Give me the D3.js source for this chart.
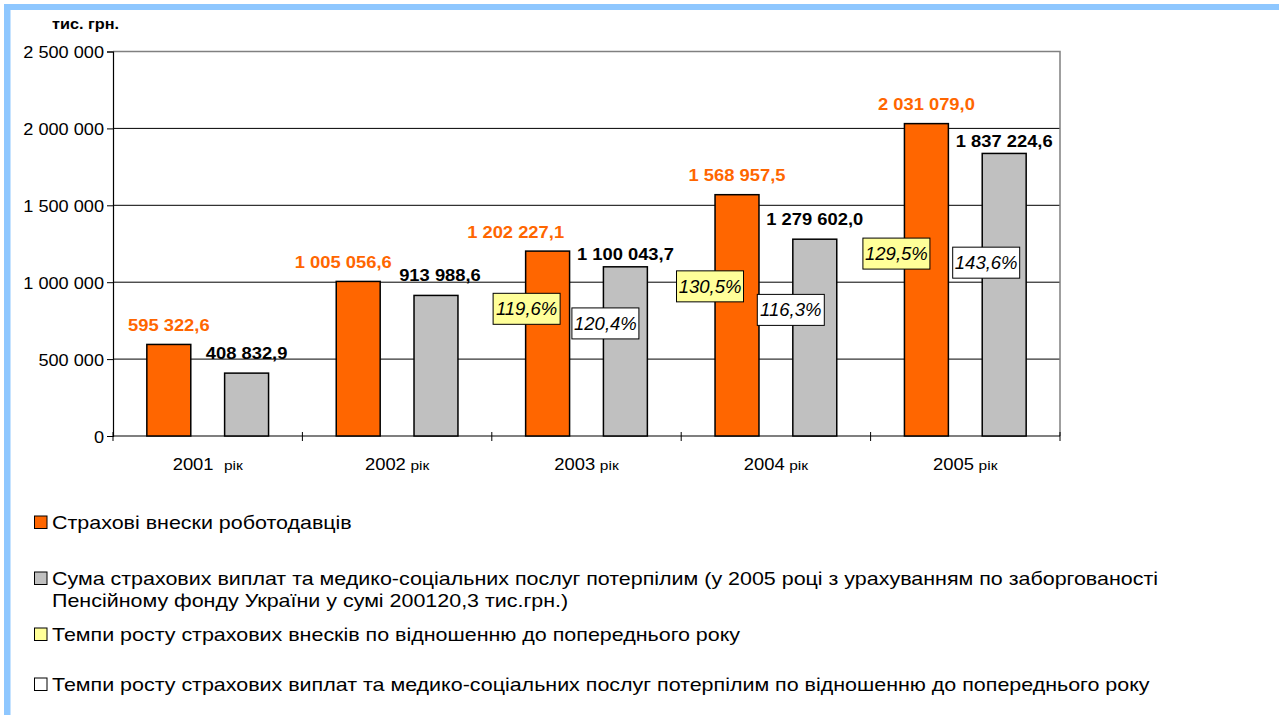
<!DOCTYPE html>
<html>
<head>
<meta charset="utf-8">
<script src="https://cdn.jsdelivr.net/npm/d3@7"></script>
<style>
  body { margin: 0; background: #fff; }
  svg { display: block; font-family: "Liberation Sans", Arial, sans-serif; }
</style>
</head>
<body>
<div id="chart"></div>
<script>
// data
var years = ["2001", "2002", "2003", "2004", "2005"];
var contributions = [595322.6, 1005056.6, 1202227.1, 1568957.5, 2031079.0];
var payments = [408832.9, 913988.6, 1100043.7, 1279602.0, 1837224.6];
var contribGrowth = [null, null, 119.6, 130.5, 129.5];
var paymentGrowth = [null, null, 120.4, 116.3, 143.6];
var yTicks = [0, 500000, 1000000, 1500000, 2000000, 2500000];
var unitLabel = "тис. грн.";
var legendLabels = [
  ["Страхові внески роботодавців"],
  ["Сума страхових виплат та медико-соціальних послуг потерпілим (у 2005 році з урахуванням по заборгованості",
   "Пенсійному фонду України у сумі 200120,3 тис.грн.)"],
  ["Темпи росту страхових внесків по відношенню до попереднього року"],
  ["Темпи росту страхових виплат та медико-соціальних послуг потерпілим по відношенню до попереднього року"]
];

var colors = { contrib: "#FF6600", pay: "#C0C0C0", rateC: "#FFFF99", rateP: "#FFFFFF" };

// hand placed label tweaks (as in the original)
var contribLabelDx = [0, -15, -32, 0, 0];
var payLabelDx = [0, 4, 0, 0, 0];
var payLabelGap = [14, 14, 7, 14, 6];
var rateCDx = [0, 0, -21, -27, -30];
var rateCLevel = [0, 0, 827000, 973000, 1186000];
var ratePDx = [0, 0, -20, -24, -18];
var ratePLevel = [0, 0, 732000, 820000, 1127000];

var W = 1279, H = 715;
var plot = { left: 113, right: 1060, top: 51.5, bottom: 436 };

var locale = d3.formatLocale({ decimal: ",", thousands: " ", grouping: [3], currency: ["", ""] });
var fmtVal = locale.format(",.1f");
var fmtTick = locale.format(",d");
var fmtPct = function(v) { return locale.format(".1f")(v) + "%"; };

var svg = d3.select("#chart").append("svg")
  .attr("width", W)
  .attr("height", H);

svg.append("rect").attr("width", W).attr("height", H).attr("fill", "#fff");

// frame of the slide
svg.append("rect").attr("x", 4).attr("y", 4).attr("width", W - 4).attr("height", 6).attr("fill", "#8EC7FF");
svg.append("rect").attr("x", 4).attr("y", 4).attr("width", 6.5).attr("height", H - 4).attr("fill", "#8EC7FF");

var x = d3.scaleBand()
  .domain(years)
  .range([plot.left, plot.right])
  .padding(0);

var xSub = d3.scaleBand()
  .domain(["contrib", "pay"])
  .range([0, x.bandwidth()])
  .padding(0.435);

var y = d3.scaleLinear()
  .domain([0, 2500000])
  .range([plot.bottom, plot.top]);

// stretched text helper (the original text is a bit wide)
function stext(g, px, py, str, sx) {
  return g.append("text")
    .attr("transform", "translate(" + px + "," + py + ") scale(" + (sx || 1) + ",1)")
    .text(str);
}

// gridlines
svg.append("g").selectAll("line")
  .data(yTicks.filter(function(d) { return d > 0 && d < 2500000; }))
  .enter().append("line")
  .attr("x1", plot.left).attr("x2", plot.right)
  .attr("y1", function(d) { return y(d); })
  .attr("y2", function(d) { return y(d); })
  .attr("stroke", "#000")
  .attr("stroke-width", 1);

// plot border top/right
svg.append("path")
  .attr("d", "M" + plot.left + "," + y(2500000) + "H" + plot.right + "V" + plot.bottom)
  .attr("fill", "none")
  .attr("stroke", "#808080")
  .attr("stroke-width", 1.5);

// y axis
var yAxis = svg.append("g")
  .attr("transform", "translate(" + plot.left + ",0)")
  .call(d3.axisLeft(y).tickValues(yTicks).tickFormat(fmtTick).tickSize(6).tickPadding(3));
yAxis.select(".domain").attr("stroke", "#000").attr("stroke-width", 1.2);
yAxis.selectAll(".tick line").attr("stroke", "#000");
yAxis.selectAll(".tick text").remove();
yAxis.selectAll(".tick").each(function(d) {
  stext(d3.select(this), -9, 6, fmtTick(d), 1.1)
    .attr("text-anchor", "end")
    .attr("font-size", 16.5)
    .attr("fill", "#000");
});

// x axis
svg.append("line")
  .attr("x1", plot.left).attr("x2", plot.right)
  .attr("y1", y(0)).attr("y2", y(0))
  .attr("stroke", "#000").attr("stroke-width", 1.2);
var bounds = years.map(function(d) { return x(d); }).concat([plot.right]);
svg.append("g").selectAll("line")
  .data(bounds)
  .enter().append("line")
  .attr("x1", function(d) { return d; }).attr("x2", function(d) { return d; })
  .attr("y1", y(0) - 4).attr("y2", y(0) + 5)
  .attr("stroke", "#000").attr("stroke-width", 1);

var xLab = svg.append("g");
years.forEach(function(yr, i) {
  var t = xLab.append("text")
    .attr("transform", "translate(" + (x(yr) + x.bandwidth() / 2) + ",470) scale(1.15,1)")
    .attr("text-anchor", "middle")
    .attr("fill", "#000");
  t.append("tspan").attr("font-size", 16).text(yr);
  t.append("tspan").attr("font-size", 13.5).attr("dx", i === 0 ? 9 : 4).text("рік");
});

// bars
var bars = svg.append("g");
bars.selectAll(".bar-c")
  .data(years)
  .enter().append("rect")
  .attr("class", "bar-c")
  .attr("x", function(d) { return x(d) + xSub("contrib"); })
  .attr("width", xSub.bandwidth())
  .attr("y", function(d, i) { return y(contributions[i]); })
  .attr("height", function(d, i) { return y(0) - y(contributions[i]); })
  .attr("fill", colors.contrib)
  .attr("stroke", "#000")
  .attr("stroke-width", 1.5);

bars.selectAll(".bar-p")
  .data(years)
  .enter().append("rect")
  .attr("class", "bar-p")
  .attr("x", function(d) { return x(d) + xSub("pay"); })
  .attr("width", xSub.bandwidth())
  .attr("y", function(d, i) { return y(payments[i]); })
  .attr("height", function(d, i) { return y(0) - y(payments[i]); })
  .attr("fill", colors.pay)
  .attr("stroke", "#000")
  .attr("stroke-width", 1.5);

// value labels
var vl = svg.append("g").attr("font-weight", "bold").attr("font-size", 17).attr("text-anchor", "middle");
years.forEach(function(yr, i) {
  var cx = x(yr) + xSub("contrib") + xSub.bandwidth() / 2 + contribLabelDx[i];
  stext(vl, cx, y(contributions[i]) - 13.5, fmtVal(contributions[i]), 1.08).attr("fill", colors.contrib);
  var px = x(yr) + xSub("pay") + xSub.bandwidth() / 2 + payLabelDx[i];
  stext(vl, px, y(payments[i]) - payLabelGap[i], fmtVal(payments[i]), 1.08).attr("fill", "#000");
});

// growth rate boxes
var rb = svg.append("g");
function rateBox(cx, cy, val, fill) {
  var bw = 67, bh = 31;
  rb.append("rect")
    .attr("x", cx - bw / 2).attr("y", cy - bh / 2)
    .attr("width", bw).attr("height", bh)
    .attr("fill", fill).attr("stroke", "#000").attr("stroke-width", 1);
  rb.append("text")
    .attr("x", cx).attr("y", cy + 6.5)
    .attr("text-anchor", "middle")
    .attr("font-style", "italic")
    .attr("font-size", 18.5)
    .attr("fill", "#000")
    .text(fmtPct(val));
}
years.forEach(function(yr, i) {
  if (contribGrowth[i] != null) {
    rateBox(x(yr) + xSub("contrib") + xSub.bandwidth() / 2 + rateCDx[i], y(rateCLevel[i]), contribGrowth[i], colors.rateC);
  }
  if (paymentGrowth[i] != null) {
    rateBox(x(yr) + xSub("pay") + xSub.bandwidth() / 2 + ratePDx[i], y(ratePLevel[i]), paymentGrowth[i], colors.rateP);
  }
});

// unit label
stext(svg, 52, 29, unitLabel, 1.16).attr("font-size", 14).attr("font-weight", "bold").attr("fill", "#000");

// legend
var legendRows = [
  { fill: colors.contrib, y: 522 },
  { fill: colors.pay, y: 578 },
  { fill: colors.rateC, y: 634 },
  { fill: colors.rateP, y: 684 }
];
var lg = svg.append("g");
legendRows.forEach(function(r, i) {
  lg.append("rect")
    .attr("x", 34.5).attr("y", r.y - 6)
    .attr("width", 12.5).attr("height", 12.5)
    .attr("fill", r.fill).attr("stroke", "#000").attr("stroke-width", 1);
  legendLabels[i].forEach(function(line, j) {
    stext(lg, 52, r.y + 7 + j * 22, line, 1.16)
      .attr("font-size", 18.5)
      .attr("fill", "#000");
  });
});
</script>
</body>
</html>
